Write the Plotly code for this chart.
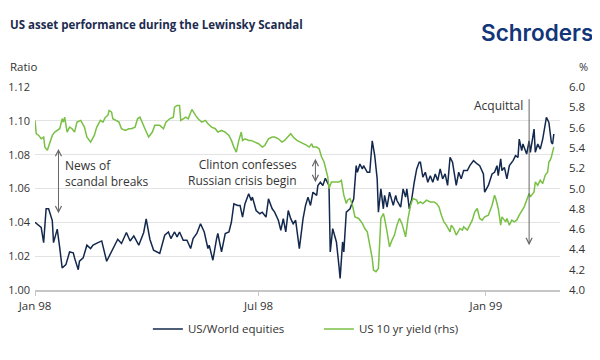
import pandas as pd
import plotly.graph_objects as go

BASE = pd.Timestamp("1998-01-01")

# US/World equities ratio (days since 1 Jan 1998, value)
eq_days = [0,5,7,9,11,14,15,18,20,22,25,28,31,32,35,36,39,42,45,47,51,54,58,62,65,67,70,74,77,80,84,88,90,93,96,
           101,105,108,110,113,115,117,120,123,126,128,131,134,137,140,141,144,147,148,151,154,157,159,161,164,166,168,170,173,175,176,179,182,184,187,189,192,194,197,199,201,203,205,
           207,209,211,214,217,219,221,223,225,228,229,231,233,235,238,239,241,244,246,247,249,250,252,255,258,260,261,263,265,266,269,271,273,275,277,278,280,282,283,285,287,290,292,293,296,298,300,301,303,305,307,309,311,
           312,314,316,318,320,322,324,326,328,330,332,334,336,338,340,341,343,345,347,350,352,355,358,360,363,364,367,370,372,374,375,377,378,380,382,384,387,389,391,392,394,395,398,400,401,404,405,407,409,411,414,416,418,419,420]
eq_vals = [1.040,1.037,1.028,1.048,1.048,1.041,1.028,1.036,1.025,1.013,1.015,1.0225,1.022,1.019,1.012,1.017,1.019,1.0265,1.0245,1.0265,
           1.028,1.029,1.017,1.0225,1.0265,1.030,1.0275,1.034,1.029,1.032,1.0265,1.034,1.042,1.030,1.0235,
           1.0216,1.0324,1.0343,1.0304,1.0343,1.0314,1.0343,1.0294,1.0294,1.0245,1.0304,1.0334,1.0392,1.0343,1.0245,1.0265,1.0176,1.0304,1.0334,1.0225,
           1.0334,1.0343,1.0402,1.051,1.05,1.05,1.0431,1.051,1.0569,1.0529,1.0549,1.047,1.0451,1.046,1.0431,1.0539,1.048,1.046,1.0412,1.0353,
           1.0422,1.0343,1.047,
           1.0422,1.0392,1.0412,1.0245,1.0422,1.05,1.0549,1.05,1.0578,1.0559,1.0618,1.0637,1.0618,1.066,1.0618,1.0225,1.0363,1.0284,1.0147,1.0069,
           1.0284,1.0225,1.046,1.048,1.0539,1.0735,1.0696,1.0745,1.0716,1.0735,1.0696,1.0696,1.0882,1.0794,1.0657,1.046,1.0598,1.048,1.0559,1.049,
           1.0578,1.05,1.0559,1.0529,1.049,1.0598,1.0549,1.0598,1.048,1.0539,1.0637,1.0716,1.0755,
           1.0755,1.0667,1.0696,1.0637,1.0676,1.0637,1.0686,1.0647,1.0716,1.0657,1.0686,1.0618,1.0784,1.0755,1.0657,1.0618,1.0696,1.0657,1.0706,1.0706,
           1.0735,1.0765,1.0745,1.0735,1.0686,1.0578,1.0618,1.0686,1.0696,1.0735,1.0676,1.0775,1.0706,1.0725,1.0657,1.0735,1.0765,1.0794,1.0784,1.0892,
           1.0824,1.0863,1.0804,1.0882,1.0814,1.0951,1.0814,1.0863,1.0833,1.0892,1.102,1.099,1.0873,1.0863,1.0922]

# US 10 yr yield, % (rhs)
yld_days = [0,1,3,5,7,8,10,12,14,16,18,20,22,23,24,26,28,30,32,34,37,40,42,45,48,50,53,55,57,59,60,62,63,66,68,70,73,76,78,81,83,85,87,89,92,95,97,
            101,104,106,109,112,113,115,117,118,120,122,124,127,130,132,135,138,140,143,146,148,151,154,157,159,161,163,165,167,168,170,173,175,178,181,184,186,189,192,194,197,200,202,
            207,209,212,215,217,220,222,224,225,228,230,232,234,236,237,238,240,243,246,248,250,252,253,255,257,259,262,265,267,269,271,273,274,276,278,279,280,282,283,285,287,289,291,293,295,297,299,300,302,304,306,309,310,
            312,314,317,320,323,325,327,329,331,333,336,337,339,341,344,346,347,350,352,354,356,358,360,362,364,367,370,372,373,375,377,378,381,382,384,386,388,390,392,394,396,398,400,401,404,405,407,409,411,413,415,416,417,418,419,420]
yld_vals = [5.671,5.54,5.523,5.49,5.507,5.408,5.376,5.442,5.523,5.556,5.572,5.589,5.687,5.654,5.703,5.556,5.605,5.589,5.556,5.654,
            5.671,5.605,5.507,5.457,5.523,5.605,5.671,5.654,5.703,5.72,5.769,5.752,5.687,5.671,5.654,5.589,5.572,5.589,5.589,5.605,
            5.687,5.703,5.654,5.589,5.507,5.556,5.622,
            5.622,5.589,5.654,5.687,5.703,5.801,5.818,5.818,5.671,5.687,5.703,5.687,5.779,5.72,5.687,5.654,5.671,5.638,5.605,5.589,
            5.556,5.572,5.556,5.523,5.474,5.408,5.359,5.474,5.556,5.474,5.49,5.474,5.474,5.457,5.441,5.408,5.425,5.49,5.507,5.507,
            5.49,5.457,5.474,
            5.54,5.507,5.474,5.457,5.441,5.425,5.408,5.441,5.408,5.408,5.392,5.31,5.261,5.179,5.114,4.999,5.064,5.064,5.064,5.081,
            4.934,4.852,4.885,4.901,4.835,4.72,4.705,4.656,4.606,4.573,4.442,4.312,4.197,4.18,4.213,4.442,4.705,4.754,4.705,4.573,
            4.426,4.491,4.541,4.639,4.705,4.656,4.573,4.524,4.705,4.835,4.901,4.885,4.852,
            4.868,4.852,4.885,4.868,4.868,4.852,4.819,4.737,4.671,4.639,4.573,4.639,4.606,4.541,4.606,4.59,4.622,4.59,4.639,4.688,
            4.77,4.803,4.705,4.688,4.72,4.737,4.835,4.934,4.901,4.803,4.639,4.72,4.671,4.705,4.639,4.688,4.671,4.688,4.737,4.786,
            4.819,4.885,4.95,4.917,4.966,5.064,5.032,5.081,5.048,5.13,5.163,5.261,5.278,5.31,5.359,5.408]

tick_vals = ["1998-01-01", "1998-07-01", "1999-01-01"]
tick_text = ["Jan 98", "Jul 98", "Jan 99"]

eq_dates = BASE + pd.to_timedelta(eq_days, unit="D")
yld_dates = BASE + pd.to_timedelta(yld_days, unit="D")

NAVY = "#13284d"
GREEN = "#79c044"
TXT = "#333333"
ARROW = "#666666"
FONT = "Open Sans"

fig = go.Figure()
fig.add_trace(go.Scatter(x=eq_dates, y=eq_vals, mode="lines", name="US/World equities",
                         line=dict(color=NAVY, width=1.5)))
fig.add_trace(go.Scatter(x=yld_dates, y=yld_vals, mode="lines", name="US 10 yr yield (rhs)",
                         line=dict(color=GREEN, width=1.5), yaxis="y2"))

# page body has an 8px default margin, so the figure is 8px smaller than the window
fig.update_layout(
    width=592, height=352,
    margin=dict(l=27, r=40, t=78.5, b=70, autoexpand=False),
    paper_bgcolor="white", plot_bgcolor="white",
    font=dict(family=FONT, size=11, color=TXT),
    showlegend=True,
    legend=dict(orientation="h", x=0.215, xanchor="left", y=-0.192, yanchor="middle",
                font=dict(size=11.5, color=TXT), tracegroupgap=0,
                entrywidth=126, entrywidthmode="pixels"),
    xaxis=dict(range=["1998-01-01", "1999-03-02"], tickvals=tick_vals, ticktext=tick_text,
               showgrid=False, showline=True, linecolor="#c6c6c6", linewidth=2,
               ticks="outside", ticklen=4, tickcolor="#c6c6c6", tickfont=dict(size=11.5),
               zeroline=False),
    yaxis=dict(range=[1.0, 1.12], dtick=0.02, tickformat=".2f", showgrid=True,
               gridcolor="#e3e3e3", gridwidth=1, zeroline=False, showline=False,
               tickfont=dict(size=11), ticks="", ticklabelstandoff=4),
    yaxis2=dict(range=[4.0, 6.0], dtick=0.2, tickformat=".1f", overlaying="y", side="right",
                showgrid=False, zeroline=False, showline=False, tickfont=dict(size=11.5),
                ticklabelstandoff=8),
)

annots = [
    dict(text="<b>US asset performance during the Lewinsky Scandal</b>", xref="paper", yref="paper",
         x=-0.0514, y=1.307, xanchor="left", yanchor="middle", showarrow=False,
         font=dict(size=11.5, color="#1d2b4f")),
    dict(text="Schroders", xref="paper", yref="paper", x=1.0667, y=1.269, xanchor="right",
         yanchor="middle", showarrow=False,
         font=dict(size=22.5, color="#13367a", family="Inter", weight=600)),
    dict(text="Ratio", xref="paper", yref="paper", x=-0.0514, y=1.10, xanchor="left",
         yanchor="middle", showarrow=False, font=dict(size=11.5, color=TXT)),
    dict(text="%", xref="paper", yref="paper", x=1.044, y=1.10, xanchor="center",
         yanchor="middle", showarrow=False, font=dict(size=11, color=TXT)),
    # arrows
    dict(x="1998-01-20", y=1.0453, ax="1998-01-20", ay=1.0843, xref="x", yref="y", axref="x", ayref="y",
         showarrow=True, arrowhead=5, startarrowhead=5, arrowside="end+start", arrowsize=1.2,
         arrowwidth=1, arrowcolor=ARROW, text=""),
    dict(x="1998-08-16", y=1.0637, ax="1998-08-16", ay=1.0784, xref="x", yref="y", axref="x", ayref="y",
         showarrow=True, arrowhead=5, startarrowhead=5, arrowside="end+start", arrowsize=1.2,
         arrowwidth=1, arrowcolor=ARROW, text=""),
    dict(x="1999-02-05", y=1.0265, ax="1999-02-05", ay=1.1137, xref="x", yref="y", axref="x", ayref="y",
         showarrow=True, arrowhead=5, arrowsize=1.2, arrowwidth=1, arrowcolor=ARROW, text=""),
    dict(text="News of<br>scandal breaks", x="1998-01-24", y=1.0688, xref="x", yref="y",
         xanchor="left", yanchor="middle", align="left", showarrow=False,
         font=dict(size=12, color=TXT)),
    dict(text="Clinton confesses<br>Russian crisis begin", x="1998-08-03", y=1.0696, xref="x", yref="y",
         xanchor="right", yanchor="middle", align="right", showarrow=False,
         font=dict(size=12, color=TXT)),
    dict(text="Acquittal", x="1999-02-02", y=1.1092, xref="x", yref="y",
         xanchor="right", yanchor="middle", showarrow=False, font=dict(size=12, color=TXT)),
]
fig.update_layout(annotations=annots)

fig.write_html("out.html")
